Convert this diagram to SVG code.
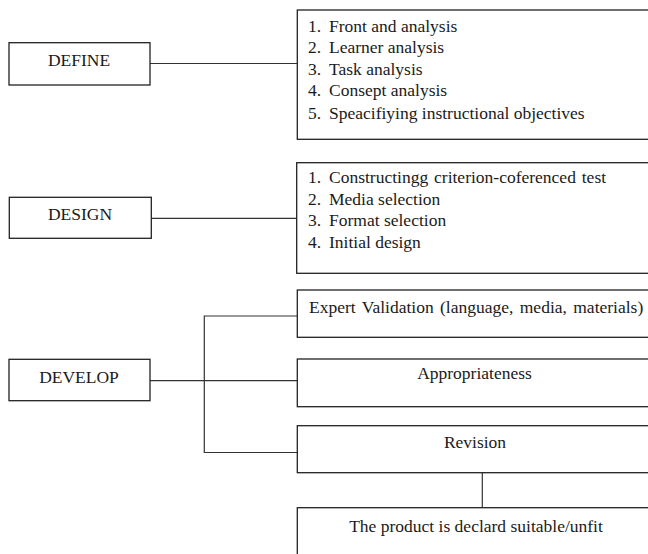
<svg xmlns="http://www.w3.org/2000/svg" width="648" height="554" viewBox="0 0 648 554">
<style>
  .box { fill: #ffffff; stroke: #222222; stroke-width: 1.3; }
  .conn { fill: none; stroke: #333333; stroke-width: 1.2; }
  text { font-family: "Liberation Serif", "Times New Roman", serif; font-size: 17.5px; fill: #1a1a1a; }
  .mid { text-anchor: middle; }
</style>
<rect width="648" height="554" fill="#ffffff"/>
<g id="connectors">
  <line class="conn" x1="150" y1="63.5" x2="297" y2="63.5"/>
  <line class="conn" x1="151" y1="218.3" x2="297" y2="218.3"/>
  <line class="conn" x1="150" y1="380.7" x2="297" y2="380.7"/>
  <polyline class="conn" points="297,316 204.3,316 204.3,452.5 297,452.5"/>
  <line class="conn" x1="482.3" y1="472.7" x2="482.3" y2="507.7"/>
</g>
<g id="define">
  <rect class="box" x="9" y="42.7" width="141" height="42.3"/>
  <text class="mid" x="79" y="66">DEFINE</text>
</g>
<g id="define-list">
  <rect class="box" x="297.3" y="10" width="370" height="129.3"/>
  <text y="31.5"><tspan x="308">1.</tspan><tspan x="329">Front and analysis</tspan></text>
  <text y="53"><tspan x="308">2.</tspan><tspan x="329">Learner analysis</tspan></text>
  <text y="74.5"><tspan x="308">3.</tspan><tspan x="329">Task analysis</tspan></text>
  <text y="96"><tspan x="308">4.</tspan><tspan x="329">Consept analysis</tspan></text>
  <text y="118.5"><tspan x="308">5.</tspan><tspan x="329">Speacifiying instructional objectives</tspan></text>
</g>
<g id="design">
  <rect class="box" x="9.3" y="197.3" width="142" height="41"/>
  <text class="mid" x="80" y="219.5">DESIGN</text>
</g>
<g id="design-list">
  <rect class="box" x="296.7" y="162.7" width="370" height="110.6"/>
  <text y="183"><tspan x="308">1.</tspan><tspan x="329" word-spacing="1.5">Constructingg criterion-coferenced test</tspan></text>
  <text y="204.5"><tspan x="308">2.</tspan><tspan x="329">Media selection</tspan></text>
  <text y="226"><tspan x="308">3.</tspan><tspan x="329">Format selection</tspan></text>
  <text y="247.5"><tspan x="308">4.</tspan><tspan x="329">Initial design</tspan></text>
</g>
<g id="develop">
  <rect class="box" x="9" y="359.3" width="141" height="41.4"/>
  <text class="mid" x="79" y="382.5">DEVELOP</text>
</g>
<g id="expert-validation">
  <rect class="box" x="297.3" y="290" width="370" height="47.3"/>
  <text x="309" y="312.7" word-spacing="2">Expert Validation (language, media, materials)</text>
</g>
<g id="appropriateness">
  <rect class="box" x="297.3" y="359" width="370" height="47.7"/>
  <text class="mid" x="474.5" y="379.3">Appropriateness</text>
</g>
<g id="revision">
  <rect class="box" x="297.3" y="425.7" width="370" height="47"/>
  <text class="mid" x="475" y="448.3">Revision</text>
</g>
<g id="product">
  <rect class="box" x="297.3" y="507.7" width="370" height="60"/>
  <text class="mid" x="476" y="531.7">The product is declard suitable/unfit</text>
</g>
</svg>
